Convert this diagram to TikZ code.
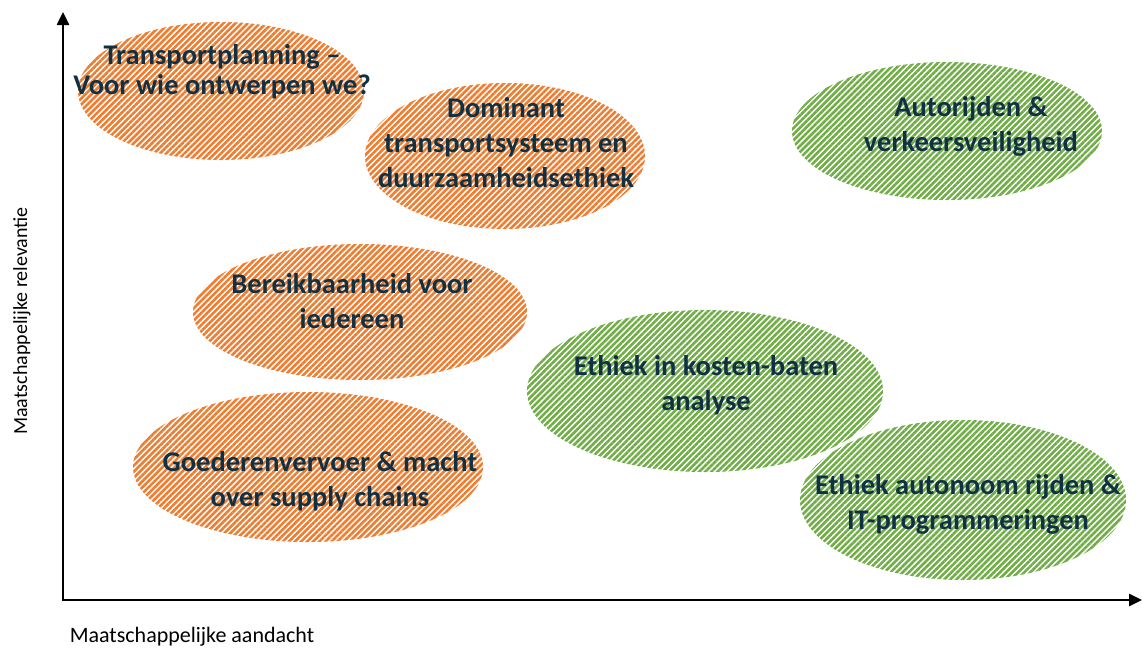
\documentclass[tikz,border=0pt]{standalone}
\usepackage{fontspec}
\setmainfont{Carlito}
\usetikzlibrary{shapes.geometric,patterns.meta,arrows.meta}
\definecolor{hatchorange}{RGB}{237,125,49}
\definecolor{hatchgreen}{RGB}{112,173,71}
\definecolor{topicnavy}{RGB}{16,48,68}

\begin{document}
\begin{tikzpicture}[x=1pt,y=-1pt,
  topic/.style={ellipse, inner sep=0pt, pattern={Lines[angle=45,distance=4.3pt,line width=2.6pt]}},
  topictext/.style={font=\fontsize{28.5}{35}\selectfont\bfseries, text=topicnavy, align=center},
  axislabel/.style={font=\fontsize{22}{26}\selectfont}]
\useasboundingbox (0,0) rectangle (1142,648);
% name/x/y/rx/ry/colour/text x/text y/text
\def\topics{tp/221/91/143/69/hatchorange/222/72/{Transportplanning –\\[-5pt]Voor wie ontwerpen we?},
  dom/505/156/140/73/hatchorange/506/143/{Dominant\\transportsysteem en\\duurzaamheidsethiek},
  auto/947/131/155/69/hatchgreen/971/126/{Autorijden \&\\verkeersveiligheid},
  bereik/360/312/167/68/hatchorange/352/301/{Bereikbaarheid voor\\iedereen},
  kba/705/391/178/81/hatchgreen/706/385/{Ethiek in kosten-baten\\analyse},
  goed/308/467/175/75/hatchorange/320/481/{Goederenvervoer \& macht\\over supply chains},
  auton/963/500/163/80/hatchgreen/968/504/{Ethiek autonoom rijden \&\\IT-programmeringen}}
\foreach \name/\x/\y/\rx/\ry/\col/\tx/\ty/\txt in \topics {
    \node[topic, pattern color=\col, minimum width=2*\rx pt, minimum height=2*\ry pt] (\name) at (\x,\y) {};
}
\foreach \name/\x/\y/\rx/\ry/\col/\tx/\ty/\txt in \topics {
    \node[topictext] (\name-text) at (\tx,\ty) {\txt};
}
% axes
\coordinate (origin) at (63,600);
\coordinate (ytop) at (63,12);
\coordinate (xend) at (1142,600);
\draw[line width=2.5pt, line join=miter, {Triangle[length=13pt,width=12pt]}-{Triangle[length=13pt,width=12pt]}] (ytop) -- (origin) -- (xend);
\node[axislabel, font=\fontsize{20}{24}\selectfont, rotate=90] (relevantie) at (22,321) {Maatschappelijke relevantie};
\node[axislabel] (aandacht) at (192,637) {Maatschappelijke aandacht};
\end{tikzpicture}
\end{document}
